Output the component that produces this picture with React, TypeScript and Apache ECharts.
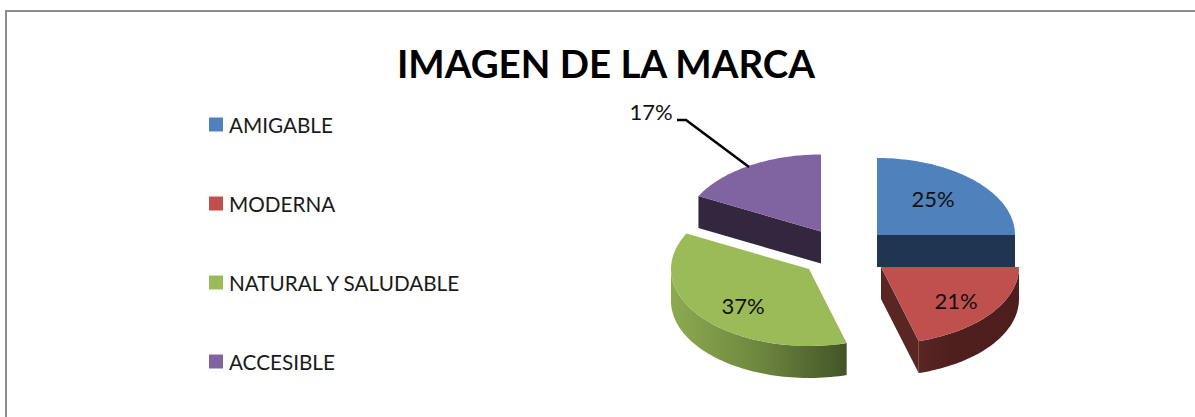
import React, { useEffect, useRef } from "react";
import * as echarts from "echarts";

const TITLE = "IMAGEN DE LA MARCA";
const categories = ["AMIGABLE", "MODERNA", "NATURAL Y SALUDABLE", "ACCESIBLE"];
const values = [25, 20.6, 37, 17.4];
const topColors = ["#4F81BD", "#C0504D", "#9BBB59", "#8064A2"];

// Layout of the exploded 3D pie: where each wedge's apex lands, and where its label sits.
const RX = 138;
const RY = 77;
const DEPTH = 32;
const apexes = [[877, 235], [881, 267], [809, 269], [821, 231.5]];
const labelOffsets = [[56, -37], [75, 33], [-66, 36], [-170, -120.5]];
const FONT = "Lato, Carlito, Calibri, sans-serif";

function wallFill(i: number): any {
  if (i === 0) return "#1F3552";
  if (i === 3) return "#33273F";
  if (i === 1) {
    return new echarts.graphic.LinearGradient(0, 0, 1, 0, [
      { offset: 0, color: "#5A2624" },
      { offset: 0.3, color: "#4F1F1E" },
      { offset: 1, color: "#4D1E1D" },
    ]);
  }
  return new echarts.graphic.LinearGradient(0, 0, 1, 0, [
    { offset: 0, color: "#8DAA50" },
    { offset: 0.5, color: "#6E873F" },
    { offset: 1, color: "#435427" },
  ]);
}

function makeRenderItem(i: number) {
  const total = values.reduce((a, b) => a + b, 0);
  const before = values.slice(0, i).reduce((a, b) => a + b, 0);
  const start = (before / total) * 2 * Math.PI;
  const end = ((before + values[i]) / total) * 2 * Math.PI;
  const [ax, ay] = apexes[i];
  const at = (a: number): number[] => [ax + RX * Math.sin(a), ay - RY * Math.cos(a)];
  const arc = (a0: number, a1: number): number[][] => {
    const n = 64;
    const pts: number[][] = [];
    for (let k = 0; k <= n; k++) pts.push(at(a0 + ((a1 - a0) * k) / n));
    return pts;
  };
  const down = (p: number[]) => [p[0], p[1] + DEPTH];

  return (_params: any, api: any) => {
    const children: any[] = [];
    const fill = wallFill(i);
    // outer rim: only its front half can be seen
    const f0 = Math.max(start, Math.PI / 2);
    const f1 = Math.min(end, (3 * Math.PI) / 2);
    if (f1 > f0) {
      const rim = arc(f0, f1);
      children.push({
        type: "polygon",
        shape: { points: [...rim, ...rim.slice().reverse().map(down)] },
        style: { fill },
      });
    }
    // cut faces, drawn when they face the viewer
    const apex = [ax, ay];
    if (Math.sin(end) > 0.01) {
      const e = at(end);
      children.push({
        type: "polygon",
        shape: { points: [apex, e, down(e), down(apex)] },
        style: { fill: i === 1 ? "#5A2624" : fill },
      });
    }
    if (Math.sin(start) < -0.01) {
      const s = at(start);
      children.push({
        type: "polygon",
        shape: { points: [apex, s, down(s), down(apex)] },
        style: { fill },
      });
    }
    // top face
    children.push({
      type: "polygon",
      shape: { points: [apex, ...arc(start, end)] },
      style: { fill: topColors[i] },
    });
    const [lx, ly] = labelOffsets[i];
    if (i === 3) {
      children.push({
        type: "polyline",
        shape: { points: [[677, 120], [686, 120], [749, 167]] },
        style: { stroke: "#000000", lineWidth: 2.5, fill: "none" },
      });
    }
    children.push({
      type: "text",
      style: {
        text: `${Math.round(api.value(0))}%`,
        x: ax + lx,
        y: ay + ly,
        align: "center",
        verticalAlign: "middle",
        font: `22px ${FONT}`,
        fill: "#111111",
      },
    });
    return { type: "group", children };
  };
}

export default function App() {
  const ref = useRef<HTMLDivElement>(null);
  useEffect(() => {
    const chart = echarts.init(ref.current!, null, { renderer: "svg" });
    chart.setOption({
      animation: false,
      backgroundColor: "#FFFFFF",
      title: {
        text: TITLE,
        left: 601,
        top: 38,
        textAlign: "center",
        textStyle: { fontFamily: FONT, fontSize: 38.5, fontWeight: "bold", color: "#000000" },
      },
      legend: {
        orient: "vertical",
        left: 209,
        top: 114,
        icon: "rect",
        itemWidth: 14,
        itemHeight: 14,
        itemGap: 58,
        padding: 0,
        data: categories,
        selectedMode: false,
        textStyle: { fontFamily: FONT, fontSize: 20.7, color: "#1A1A1A", padding: [0, 0, 0, 1] },
      },
      graphic: [
        {
          type: "polyline",
          shape: { points: [[6, 417], [6, 11], [1195, 11]] },
          style: { stroke: "#8C8C8C", lineWidth: 2, fill: "none" },
        },
      ],
      series: categories.map((name, i) => ({
        type: "custom",
        name,
        coordinateSystem: "none",
        data: [values[i]],
        itemStyle: { color: topColors[i] },
        renderItem: makeRenderItem(i),
      })),
    });
    return () => chart.dispose();
  }, []);
  return (
    <div
      ref={ref}
      style={{ position: "absolute", left: 0, top: 0, width: 1195, height: 417, overflow: "hidden" }}
    />
  );
}
